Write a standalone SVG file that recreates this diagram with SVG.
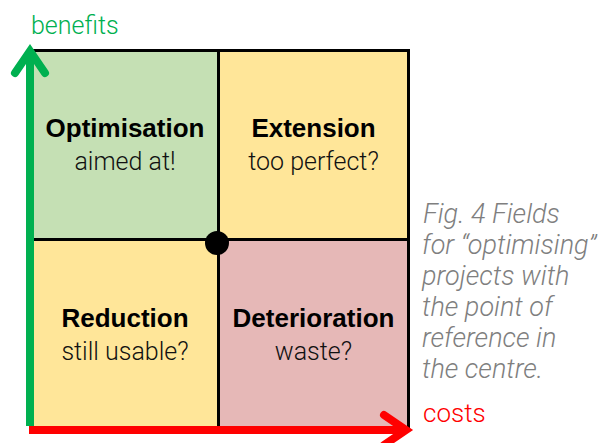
<svg xmlns="http://www.w3.org/2000/svg" width="605" height="443" viewBox="0 0 605 443">
  <style>
    .title { font-family: "Liberation Sans", Arial, sans-serif; font-weight: bold; font-size: 26px; fill: #000; text-anchor: middle; }
    .sub { font-family: Roboto, "Liberation Sans", sans-serif; font-weight: 300; font-size: 25px; fill: #111; text-anchor: middle; }
    .grid { stroke: #000; stroke-width: 3; fill: none; }
    .axis { fill: none; stroke-width: 8; }
    .head { fill: none; stroke-width: 8; stroke-linecap: round; stroke-linejoin: miter; stroke-miterlimit: 10; }
    .caption { font-family: Roboto, "Liberation Sans", sans-serif; font-weight: 300; font-style: italic; font-size: 27px; fill: #7f7f7f; }
  </style>

  <rect width="605" height="443" fill="#ffffff"/>

  <!-- quadrants -->
  <g id="optimisation">
    <rect x="30" y="50.5" width="188.5" height="189" fill="#c5e0b4"/>
    <text class="title" x="125" y="137">Optimisation</text>
    <text class="sub" x="125" y="170">aimed at!</text>
  </g>
  <g id="extension">
    <rect x="218.5" y="50.5" width="190" height="189" fill="#ffe699"/>
    <text class="title" x="313.5" y="137">Extension</text>
    <text class="sub" x="313.5" y="170">too perfect?</text>
  </g>
  <g id="reduction">
    <rect x="30" y="239.5" width="188.5" height="188" fill="#ffe699"/>
    <text class="title" x="125" y="327">Reduction</text>
    <text class="sub" x="125" y="360">still usable?</text>
  </g>
  <g id="deterioration">
    <rect x="218.5" y="239.5" width="190" height="188" fill="#e6b8b7"/>
    <text class="title" x="313.5" y="327">Deterioration</text>
    <text class="sub" x="313.5" y="360">waste?</text>
  </g>

  <!-- grid lines -->
  <g id="grid">
    <path class="grid" d="M30,50.5 H408.5 V428 M218.5,50.5 V428 M30,239.5 H408.5"/>
  </g>

  <!-- reference point -->
  <g id="reference-point">
    <circle cx="217" cy="243" r="12" fill="#000"/>
  </g>

  <!-- axes -->
  <g id="connectors">
    <g id="benefits-axis" stroke="#00b050">
      <line class="axis" x1="30" y1="426" x2="30" y2="52"/>
      <path class="head" d="M15,73 L30,51 L45,73"/>
    </g>
    <g id="costs-axis" stroke="#ff0000">
      <line class="axis" x1="29" y1="430" x2="406" y2="430"/>
      <path class="head" d="M384,415 L406,430 L384,445"/>
    </g>
  </g>

  <g id="labels">
    <text x="31" y="34" font-family="Roboto, 'Liberation Sans', sans-serif" font-weight="300" font-size="25" fill="#00b050">benefits</text>
    <text x="423" y="422" font-family="Roboto, 'Liberation Sans', sans-serif" font-weight="300" font-size="26" fill="#ff0000">costs</text>
  </g>

  <g id="caption">
    <text class="caption" x="423" y="223">Fig. 4 Fields</text>
    <text class="caption" x="422" y="254">for “optimising”</text>
    <text class="caption" x="422" y="285">projects with</text>
    <text class="caption" x="422" y="316">the point of</text>
    <text class="caption" x="422" y="347">reference in</text>
    <text class="caption" x="422" y="378">the centre.</text>
  </g>
</svg>
